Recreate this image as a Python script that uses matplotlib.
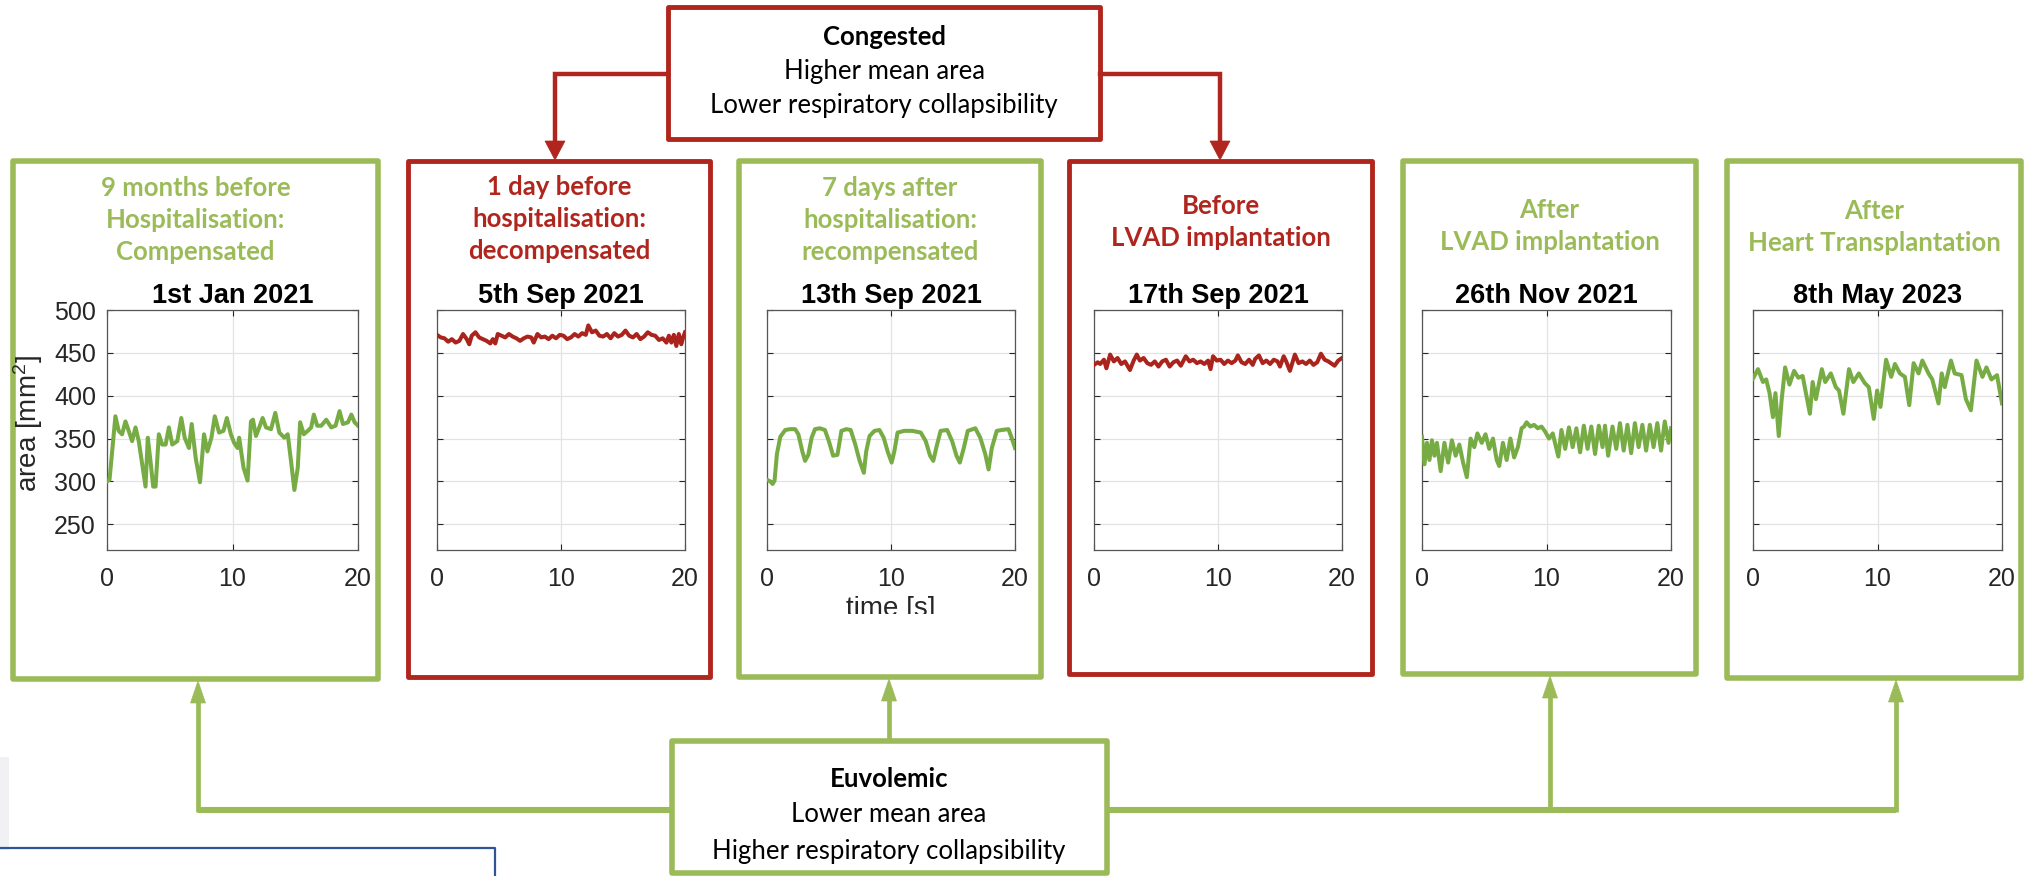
import matplotlib
matplotlib.use("Agg")
import matplotlib.pyplot as plt
from matplotlib.patches import Rectangle, Polygon

matplotlib.rcParams['font.family'] = 'Liberation Sans'
matplotlib.rcParams['mathtext.fontset'] = 'custom'
matplotlib.rcParams['mathtext.rm'] = 'Liberation Sans'
matplotlib.rcParams['mathtext.default'] = 'regular'

# ---- data (time [s], area [mm^2]) ----
t1 = [0, 0.2, 0.67, 0.93, 1.2, 1.47, 1.73, 2.0, 2.27, 2.53, 3.07, 3.25, 3.47, 3.68, 3.87,
      4.13, 4.4, 4.67, 4.93, 5.2, 5.6, 5.92, 6.19, 6.53, 6.75, 7.07, 7.41, 7.73, 8.0, 8.32,
      8.59, 8.93, 9.28, 9.55, 9.87, 10.13, 10.4, 10.53, 10.88, 11.2, 11.47, 11.63, 11.87,
      12.13, 12.4, 12.67, 13.07, 13.41, 13.73, 14.13, 14.4, 14.67, 14.93, 15.2, 15.39,
      15.68, 16.0, 16.27, 16.48, 16.75, 17.07, 17.47, 17.87, 18.21, 18.53, 18.8, 19.2,
      19.47, 19.73, 20.0]
y1 = [300, 302, 376, 359, 355, 370, 359, 347, 363, 347, 294, 351, 323, 294, 294,
      355, 343, 343, 363, 343, 347, 374, 351, 339, 367, 327, 299, 355, 335, 351,
      376, 357, 359, 374, 355, 345, 339, 351, 316, 301, 370, 372, 353,
      363, 374, 363, 361, 380, 357, 351, 355, 323, 290, 316, 369,
      355, 359, 363, 378, 365, 365, 372, 363, 365, 382, 367, 369,
      378, 369, 365]

t2 = [0, 0.3, 0.6, 0.9, 1.2, 1.5, 1.8, 2.1, 2.4, 2.6, 2.8, 3.1, 3.4, 3.7, 4.0,
      4.3, 4.5, 4.7, 4.9, 5.2, 5.5, 5.8, 6.1, 6.4, 6.7, 7.0, 7.3, 7.6, 7.8, 8.1,
      8.4, 8.7, 9.0, 9.3, 9.6, 9.9, 10.2, 10.5, 10.8, 11.1, 11.4, 11.7, 12.0, 12.2, 12.5,
      12.8, 13.1, 13.4, 13.7, 14.0, 14.3, 14.6, 14.9, 15.2, 15.5, 15.8, 16.1, 16.4, 16.7,
      17.0, 17.3, 17.6, 17.9, 18.2, 18.5, 18.7, 18.9, 19.1, 19.3, 19.5, 19.7, 19.85, 20.0]
y2 = [471, 468, 467, 463, 466, 462, 464, 472, 466, 460, 470, 474, 468, 466, 464,
      461, 466, 461, 472, 470, 468, 472, 469, 467, 464, 467, 469, 468, 462, 472,
      468, 469, 466, 470, 467, 471, 470, 466, 468, 472, 469, 473, 471, 482, 474,
      476, 470, 469, 472, 467, 473, 469, 471, 476, 470, 468, 472, 466, 469,
      474, 471, 470, 465, 467, 462, 470, 462, 471, 458, 472, 460, 468, 474]

t3 = [0, 0.27, 0.45, 0.61, 0.8, 1.07, 1.47, 1.87, 2.27, 2.53, 2.85, 3.07, 3.33, 3.6, 3.87,
      4.27, 4.67, 4.99, 5.33, 5.68, 6.0, 6.4, 6.75, 7.12, 7.47, 7.81, 8.0, 8.27, 8.67, 9.07,
      9.41, 9.73, 10.05, 10.27, 10.53, 11.07, 11.73, 12.4, 12.8, 13.15, 13.41, 13.68, 14.0,
      14.53, 14.93, 15.28, 15.55, 15.87, 16.19, 16.8, 17.2, 17.6, 17.87, 18.13, 18.53,
      18.93, 19.47, 19.73, 20.0]
y3 = [302, 300, 297, 301, 332, 352, 360, 361, 361, 355, 335, 324, 331, 351, 361,
      362, 360, 347, 330, 331, 359, 361, 360, 343, 324, 310, 335, 353, 359, 360,
      351, 335, 322, 335, 357, 359, 359, 357, 347, 330, 324, 341, 359,
      360, 347, 330, 322, 339, 359, 362, 351, 332, 314, 339, 359,
      360, 361, 351, 339]

t4 = [0, 0.3, 0.5, 0.8, 1.0, 1.3, 1.6, 1.9, 2.2, 2.5, 2.9, 3.2, 3.45, 3.7, 4.0,
      4.3, 4.6, 4.9, 5.2, 5.5, 5.8, 6.1, 6.4, 6.7, 7.0, 7.4, 7.7, 8.0, 8.3, 8.6,
      8.9, 9.2, 9.4, 9.6, 9.9, 10.2, 10.5, 10.8, 11.1, 11.4, 11.6, 11.9, 12.2, 12.5, 12.8,
      13.0, 13.3, 13.6, 13.9, 14.2, 14.5, 14.8, 15.0, 15.3, 15.5, 15.8, 16.2, 16.5, 16.8,
      17.1, 17.4, 17.7, 18.0, 18.3, 18.6, 18.9, 19.2, 19.4, 19.7, 20.0]
y4 = [436, 439, 437, 442, 432, 448, 440, 444, 437, 440, 430, 441, 448, 441, 444,
      438, 436, 440, 434, 440, 442, 434, 439, 441, 435, 446, 440, 442, 438, 440,
      437, 441, 431, 446, 441, 442, 437, 441, 438, 441, 447, 439, 437, 442, 436,
      443, 447, 438, 441, 437, 442, 440, 434, 446, 440, 429, 448, 438, 440,
      437, 441, 436, 439, 449, 442, 440, 437, 435, 441, 444]

t5 = [0, 0.2, 0.4, 0.6, 0.8, 1.0, 1.2, 1.5, 1.8, 2.1, 2.4, 2.7, 3.0, 3.3, 3.6,
      3.9, 4.2, 4.45, 4.8, 5.1, 5.4, 5.7, 6.0, 6.2, 6.5, 6.8, 7.1, 7.4, 7.7, 8.0,
      8.2, 8.4, 8.7, 9.0, 9.3, 9.6, 9.9, 10.2, 10.5, 10.95, 11.2, 11.5, 11.8, 12.1, 12.4,
      12.7, 13.0, 13.3, 13.6, 13.9, 14.2, 14.5, 14.7, 14.95, 15.3, 15.6, 15.9, 16.2, 16.5,
      16.8, 17.1, 17.4, 17.7, 18.0, 18.3, 18.6, 18.9, 19.2, 19.5, 19.8, 20.0]
y5 = [352, 320, 345, 325, 348, 330, 345, 312, 345, 322, 348, 330, 343, 322, 305,
      350, 340, 356, 345, 355, 338, 350, 325, 318, 345, 325, 350, 328, 340, 362,
      364, 369, 364, 366, 362, 364, 358, 350, 356, 329, 360, 338, 363, 340, 362,
      334, 365, 338, 364, 332, 365, 340, 365, 330, 364, 338, 368, 336, 366,
      333, 368, 340, 366, 336, 366, 340, 368, 336, 370, 345, 362]

t6 = [0, 0.4, 0.8, 1.06, 1.33, 1.6, 1.8, 2.07, 2.3, 2.58, 2.93, 3.3, 3.64, 3.99, 4.2,
      4.57, 4.79, 5.05, 5.53, 5.8, 6.25, 6.65, 6.91, 7.26, 7.71, 8.06, 8.5, 8.96, 9.3, 9.7,
      9.97, 10.24, 10.69, 11.1, 11.4, 11.8, 12.2, 12.55, 12.9, 13.3, 13.6, 14.1, 14.4, 14.9,
      15.16, 15.4, 15.9, 16.2, 16.75, 17.1, 17.5, 17.95, 18.43, 18.75, 19.15, 19.6, 20.0]
y6 = [420, 431, 416, 419, 403, 375, 403, 353, 395, 433, 413, 429, 421, 423, 407,
      379, 416, 396, 431, 416, 426, 410, 406, 379, 431, 416, 426, 415, 410, 373,
      406, 387, 442, 422, 437, 426, 422, 389, 438, 426, 441, 426, 419, 391,
      426, 410, 441, 426, 424, 396, 383, 441, 422, 433, 419, 424, 391]

headings = ["9 months before\nHospitalisation:\nCompensated",
            "1 day before\nhospitalisation:\ndecompensated",
            "7 days after\nhospitalisation:\nrecompensated",
            "Before\nLVAD implantation",
            "After\nLVAD implantation",
            "After\nHeart Transplantation"]
dates = ["1st Jan 2021", "5th Sep 2021", "13th Sep 2021",
         "17th Sep 2021", "26th Nov 2021", "8th May 2023"]
state = ["eu", "cong", "eu", "cong", "eu", "eu"]
series = [(t1, y1), (t2, y2), (t3, y3), (t4, y4), (t5, y5), (t6, y6)]
yticks = [250, 300, 350, 400, 450, 500]
xticks = [0, 10, 20]

# ---- layout, in pixels of the 2025x876 picture (y down) ----
W, H = 2025, 876
GREEN = "#9BBB59"
RED = "#B0261E"
LINE = {"eu": "#77AC45", "cong": "#AA231C"}
BOXC = {"eu": GREEN, "cong": RED}

boxes = [(13, 161, 378, 679), (408, 161, 710, 677), (739, 161, 1041, 677),
         (1069, 161, 1372, 674), (1403, 161, 1696, 674), (1727, 161, 2021, 678)]
axes_x = [(107, 358), (437, 685), (767, 1015), (1094, 1342), (1422, 1671), (1753, 2002)]
ax_top, ax_bot = 310, 550
head_y = [220, 219, 220, 222, 226, 227]


def frac(x0, y0, x1, y1):
    return [x0 / W, 1 - y1 / H, (x1 - x0) / W, (y1 - y0) / H]


fig = plt.figure(figsize=(W / 100, H / 100), dpi=100)
ov = fig.add_axes([0, 0, 1, 1], zorder=0)
ov.set_xlim(0, W)
ov.set_ylim(H, 0)
ov.axis("off")

hfont = dict(family="Lato", fontweight="bold")

for i in range(6):
    x0, y0, x1, y1 = boxes[i]
    c = BOXC[state[i]]
    ov.add_patch(Rectangle((x0, y0), x1 - x0, y1 - y0, fill=False, ec=c,
                           lw=4.0 if state[i] == "eu" else 3.5, joinstyle="round"))
    ov.text((x0 + x1) / 2, head_y[i], headings[i], ha="center", va="center",
            color=c, fontsize=18.5, linespacing=1.42, **hfont)

    ax = fig.add_axes(frac(axes_x[i][0], ax_top, axes_x[i][1], ax_bot), zorder=1)
    t, y = series[i]
    ax.plot(t, y, color=LINE[state[i]], lw=2.9, zorder=3)
    ax.set_xlim(0, 20)
    ax.set_ylim(220, 500)
    ax.set_xticks(xticks)
    ax.set_yticks(yticks)
    ax.grid(True, color="#e3e3e3", lw=0.9)
    ax.tick_params(direction="in", top=True, right=True, length=4, width=0.8,
                   colors="#262626", labelsize=18, labelcolor="#262626")
    ax.tick_params(axis="x", pad=12)
    ax.tick_params(axis="y", pad=8, labelleft=(i == 0))
    for s in ax.spines.values():
        s.set_color("#555555")
        s.set_linewidth(0.9)
    ax.set_title(dates[i], fontsize=19.5, fontweight="bold", pad=5)

# y label of the first panel
ov.text(28, 424, "area [mm$^2$]", rotation=90, ha="center", va="center",
        fontsize=20, color="#262626")

# x label under panel 3, cut off at the bottom as in the source figure
ov.text(891, 609, "time [s]", ha="center", va="center", fontsize=20,
        color="#262626", zorder=2)
ov.add_patch(Rectangle((820, 614), 150, 30, fc="white", ec="none", zorder=3))

# ---- Congested box and red arrows ----
ov.add_patch(Rectangle((668, 7), 432, 132, fill=False, ec=RED, lw=3.5, joinstyle="round"))
ov.text(884, 37, "Congested", ha="center", va="center", fontsize=18.5, color="black", **hfont)
ov.text(884, 72, "Higher mean area", ha="center", va="center", fontsize=18.5,
        color="black", family="Lato")
ov.text(884, 106, "Lower respiratory collapsibility", ha="center", va="center",
        fontsize=18.5, color="black", family="Lato")

for xa, xs in [(555, 668), (1220, 1100)]:
    ov.plot([xs, xa, xa], [74, 74, 143], color=RED, lw=3.2, solid_joinstyle="miter")
    ov.add_patch(Polygon([(xa - 10, 141), (xa + 10, 141), (xa, 160)], closed=True,
                         fc=RED, ec=RED, lw=0.5))

# ---- Euvolemic box and green arrows ----
ov.add_patch(Rectangle((672, 741), 435, 132, fill=False, ec=GREEN, lw=4.0, joinstyle="round"))
ov.text(889, 779, "Euvolemic", ha="center", va="center", fontsize=18.5, color="black", **hfont)
ov.text(889, 815, "Lower mean area", ha="center", va="center", fontsize=18.5,
        color="black", family="Lato")
ov.text(889, 851, "Higher respiratory collapsibility", ha="center", va="center",
        fontsize=18.5, color="black", family="Lato")

ov.plot([198, 672], [810, 810], color=GREEN, lw=4.4, solid_capstyle="butt")
ov.plot([1107, 1896], [810, 810], color=GREEN, lw=4.4, solid_capstyle="butt")
for xa, ybase, ytip in [(198, 812, 680), (889, 741, 678), (1550, 812, 675), (1896, 812, 679)]:
    ov.plot([xa, xa], [ybase, ytip + 18], color=GREEN, lw=3.4, solid_capstyle="butt")
    ov.add_patch(Polygon([(xa - 7.5, ytip + 23), (xa + 7.5, ytip + 23), (xa, ytip + 1)],
                         closed=True, fc=GREEN, ec=GREEN, lw=0.5))

# remnants at the lower left edge of the crop
ov.add_patch(Rectangle((0, 757), 9, 93, fc="#f1f1f4", ec="none"))
ov.plot([0, 495, 495], [848, 848, 880], color="#2F5597", lw=1.6)

fig.savefig("out.png", dpi=100)
